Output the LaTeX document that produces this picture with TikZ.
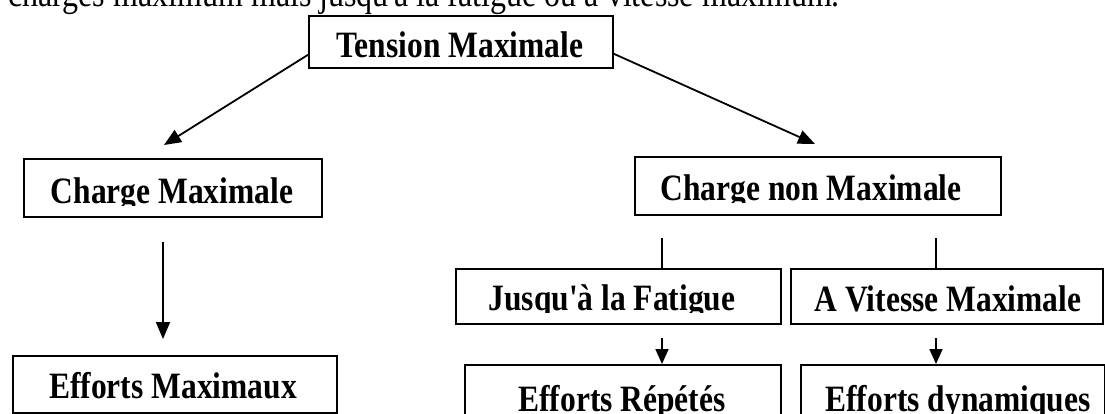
\documentclass[tikz,border=0pt]{standalone}
\usepackage{graphicx}
\usepackage{fontspec}
\setmainfont{Liberation Serif}[Ligatures=TeXOff]
\usetikzlibrary{arrows.meta}

% glyphs of the chart are set slightly taller than wide
\newcommand\tallglyphs[1]{\scalebox{1}[1.18]{#1}}

% A framed box whose label is cut just below its baseline
\newcommand\flowbox[8]{% #1 name, #2 x1, #3 y1, #4 x2, #5 y2, #6 label x, #7 baseline, #8 label
  \node[box, minimum width={#4pt-#2pt}, minimum height={#5pt-#3pt}] (#1) at (#2,#3) {};
  \begin{scope}
    \clip (#2,#3) rectangle (#4,{#7+2});
    \node[lbl] (#1-text) at (#6,#7) {\tallglyphs{#8}};
  \end{scope}
}

\begin{document}
\begin{tikzpicture}[x=1pt,y=-1pt,
  box/.style={draw, line width=1.8pt, inner sep=0pt, anchor=north west},
  lbl/.style={font=\fontsize{31.5}{36}\selectfont\bfseries, anchor=base, inner sep=0pt},
  conn/.style={line width=1.8pt},
  bigarr/.style={conn, -{Triangle[length=17pt,width=14pt]}},
  smallarr/.style={conn, -{Triangle[length=15pt,width=13pt]}}
]
\useasboundingbox (0,0) rectangle (1105,413);
\fill[white] (0,0) rectangle (1105,413);
\clip (0,0) rectangle (1105,413);

% last line of the paragraph above the chart
\node[anchor=base west, inner sep=0pt, font=\fontsize{32}{38}\selectfont] (para) at (8,6)
  {\tallglyphs{charges maximum mais jusqu'à la fatigue ou à vitesse maximum.}};

% boxes
\flowbox{top}{308}{15}{612}{67}{460}{57}{Tension Maximale}
\flowbox{cmax}{23}{158}{321}{216}{172}{203}{Charge Maximale}
\flowbox{cnon}{634}{156}{1000}{214}{811}{200.5}{Charge non Maximale}
\flowbox{emax}{12}{355}{336}{412}{173}{398}{Efforts Maximaux}
\flowbox{fat}{455}{268}{780}{323}{612}{310.5}{Jusqu'à la Fatigue}
\flowbox{vit}{790}{268}{1102}{323}{948}{311}{A Vitesse Maximale}
\flowbox{rep}{464}{364}{780}{440}{622}{411}{Efforts Répétés}
\flowbox{dyn}{800}{364}{1104}{440}{958}{411}{Efforts dynamiques}

% free ends of the connectors
\coordinate (cmaxin) at (164,145);
\coordinate (cnonin) at (815,144);
\coordinate (cmaxout) at (163,242);
\coordinate (emaxin) at (163,339);
\coordinate (fatout) at (662,238);
\coordinate (vitout) at (936,238);
\coordinate (repout) at (662,338);
\coordinate (dynout) at (936,338);

% connectors
\draw[bigarr] ([yshift=14pt]top.south west) -- (cmaxin);
\draw[bigarr] ([yshift=15pt]top.south east) -- (cnonin);
\draw[bigarr] (cmaxout) -- (emaxin);
\draw[conn] (fatout) -- (fatout |- fat.north);
\draw[conn] (vitout) -- (vitout |- vit.north);
\draw[smallarr] (repout) -- (repout |- rep.north);
\draw[smallarr] (dynout) -- (dynout |- dyn.north);
\end{tikzpicture}
\end{document}
